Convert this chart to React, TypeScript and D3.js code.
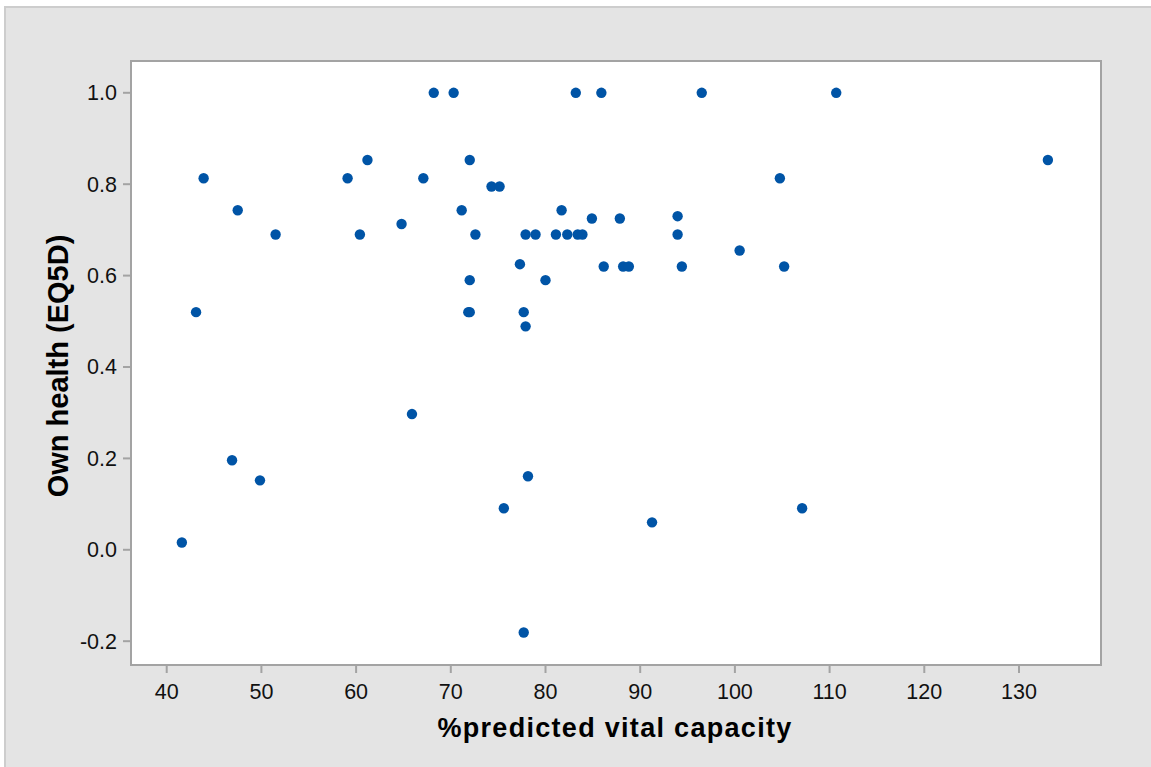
import React from "react";
import * as d3 from "d3";

const vitalCapacity: number[] = [
  41.6, 43.1, 43.9, 46.9, 47.5, 49.85, 51.5, 59.1, 60.4, 61.2,
  64.8, 65.9, 67.1, 68.2, 70.3, 71.15, 72.0, 72.0, 71.85, 72.0,
  72.6, 74.3, 75.15, 75.6, 77.3, 77.7, 77.9, 77.9, 78.15, 77.7,
  78.95, 80.0, 81.1, 81.7, 82.3, 83.2, 83.4, 83.9, 84.9, 85.9,
  86.15, 87.85, 88.2, 88.8, 91.25, 93.95, 93.95, 94.4, 96.5, 100.5,
  104.75, 105.2, 107.1, 110.7, 133.05,
];

const ownHealth: number[] = [
  0.016, 0.52, 0.813, 0.196, 0.743, 0.152, 0.69, 0.813, 0.69, 0.853,
  0.713, 0.297, 0.813, 1.0, 1.0, 0.743, 0.853, 0.59, 0.52, 0.52,
  0.69, 0.795, 0.795, 0.091, 0.625, 0.52, 0.69, 0.489, 0.161, -0.181,
  0.69, 0.59, 0.69, 0.743, 0.69, 1.0, 0.69, 0.69, 0.725, 1.0,
  0.62, 0.725, 0.62, 0.62, 0.06, 0.73, 0.69, 0.62, 1.0, 0.655,
  0.813, 0.62, 0.091, 1.0, 0.853,
];

const xTickValues: number[] = [40, 50, 60, 70, 80, 90, 100, 110, 120, 130];
const yTickValues: number[] = [-0.2, 0.0, 0.2, 0.4, 0.6, 0.8, 1.0];

const xTitle = "%predicted vital capacity";
const yTitle = "Own health (EQ5D)";

const W = 1151;
const H = 767;
const plot = { left: 131, top: 61, right: 1101, bottom: 665 };

export default function App() {
  const x = d3.scaleLinear().domain([36.23, 138.66]).range([plot.left, plot.right]);
  const y = d3.scaleLinear().domain([-0.2521, 1.0696]).range([plot.bottom, plot.top]);
  const fmt = (t: number) => t.toFixed(1);
  const points = vitalCapacity.map((v, i) => ({ v, h: ownHealth[i] }));
  const font = "'Liberation Sans', Arial, sans-serif";
  const frame = "#a3a3a3";

  return (
    <div style={{ position: "absolute", left: 0, top: 0 }}>
      <svg width={W} height={H} style={{ display: "block" }}>
        <rect x={0} y={0} width={W} height={H} fill="#ffffff" />
        <rect x={5} y={7} width={W + 20} height={H + 20} fill="#e4e4e4" stroke="#cdcdcd" strokeWidth={2} />
        <rect
          x={plot.left}
          y={plot.top}
          width={plot.right - plot.left}
          height={plot.bottom - plot.top}
          fill="#ffffff"
          stroke={frame}
          strokeWidth={2}
        />
        {xTickValues.map((t) => (
          <g key={"x" + t}>
            <line x1={x(t)} x2={x(t)} y1={plot.bottom + 1} y2={plot.bottom + 8} stroke={frame} strokeWidth={2} />
            <text
              x={x(t)}
              y={699}
              textAnchor="middle"
              fontFamily={font}
              fontSize={21.5}
              fill="#111"
            >
              {t}
            </text>
          </g>
        ))}
        {yTickValues.map((t) => (
          <g key={"y" + t}>
            <line x1={plot.left - 8} x2={plot.left - 1} y1={y(t)} y2={y(t)} stroke={frame} strokeWidth={2} />
            <text
              x={117}
              y={y(t) + 7.5}
              textAnchor="end"
              fontFamily={font}
              fontSize={21.5}
              fill="#111"
            >
              {fmt(t)}
            </text>
          </g>
        ))}
        {points.map((p, i) => (
          <circle key={i} cx={x(p.v)} cy={y(p.h)} r={5.2} fill="#0054a6" />
        ))}
        <text
          x={615}
          y={737}
          textAnchor="middle"
          fontFamily={font}
          fontSize={27}
          fontWeight="bold"
          letterSpacing={1.3}
          fill="#000"
        >
          {xTitle}
        </text>
        <text
          transform={`translate(68, 366) rotate(-90)`}
          textAnchor="middle"
          fontFamily={font}
          fontSize={29}
          fontWeight="bold"
          fill="#000"
        >
          {yTitle}
        </text>
      </svg>
    </div>
  );
}
